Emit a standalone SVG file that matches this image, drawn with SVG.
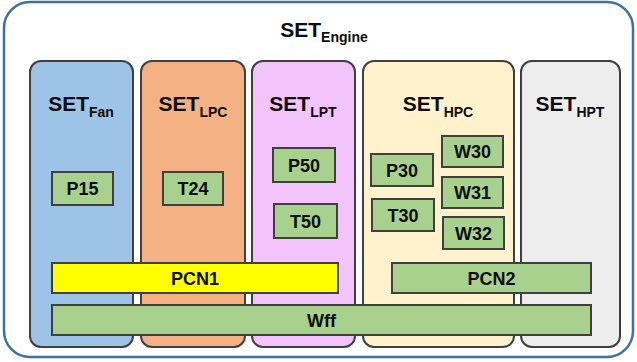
<svg xmlns="http://www.w3.org/2000/svg" width="637" height="362" viewBox="0 0 637 362">
<style>
text{font-family:"Liberation Sans",Arial,sans-serif;font-weight:bold;fill:#0d0d0d;text-anchor:middle}
.col{stroke:#404040;stroke-width:2}
.box{fill:#a9d18e;stroke:#404040;stroke-width:2}
.lbl{font-size:21px}
.sub{font-size:14px}
.bt{font-size:18px}
</style>
<rect width="637" height="362" fill="#ffffff"/>
<g id="engine">
<rect x="4" y="2" width="629" height="355" rx="26" fill="#ffffff" stroke="#41719c" stroke-width="2.5"/>
<text class="lbl" x="324" y="37">SET<tspan class="sub" dy="5">Engine</tspan></text>
</g>
<g id="fan">
<rect class="col" x="30" y="61" width="103" height="286" rx="11" fill="#9dc3e6"/>
<text class="lbl" x="81" y="111">SET<tspan class="sub" dy="6">Fan</tspan></text>
</g>
<g id="lpc">
<rect class="col" x="141" y="61" width="104" height="286" rx="11" fill="#f4b183"/>
<text class="lbl" x="193" y="111">SET<tspan class="sub" dy="6">LPC</tspan></text>
</g>
<g id="lpt">
<rect class="col" x="252" y="61" width="103" height="286" rx="11" fill="#f3c4fb"/>
<text class="lbl" x="303" y="111">SET<tspan class="sub" dy="6">LPT</tspan></text>
</g>
<g id="hpc">
<rect class="col" x="363" y="61" width="151" height="286" rx="11" fill="#fff2cc"/>
<text class="lbl" x="438" y="111">SET<tspan class="sub" dy="6">HPC</tspan></text>
</g>
<g id="hpt">
<rect class="col" x="521" y="61" width="99" height="286" rx="11" fill="#ededed"/>
<text class="lbl" x="570" y="111">SET<tspan class="sub" dy="6">HPT</tspan></text>
</g>
<g id="p15"><rect class="box" x="52" y="172" width="61" height="33"/><text class="bt" x="82.5" y="195">P15</text></g>
<g id="t24"><rect class="box" x="163" y="172" width="60" height="33"/><text class="bt" x="193" y="195">T24</text></g>
<g id="p50"><rect class="box" x="273" y="148" width="62" height="34"/><text class="bt" x="304" y="171.5">P50</text></g>
<g id="t50"><rect class="box" x="274" y="204" width="63" height="34"/><text class="bt" x="305.5" y="227.5">T50</text></g>
<g id="p30"><rect class="box" x="371" y="154" width="62" height="32"/><text class="bt" x="402" y="176.5">P30</text></g>
<g id="t30"><rect class="box" x="372" y="199" width="62" height="32"/><text class="bt" x="403" y="221.5">T30</text></g>
<g id="w30"><rect class="box" x="442" y="136" width="61" height="31"/><text class="bt" x="472.5" y="158">W30</text></g>
<g id="w31"><rect class="box" x="442" y="177" width="61" height="31"/><text class="bt" x="472.5" y="199">W31</text></g>
<g id="w32"><rect class="box" x="443" y="217" width="61" height="32"/><text class="bt" x="473.5" y="239.5">W32</text></g>
<g id="pcn1"><rect x="52" y="263" width="286" height="30" fill="#ffff00" stroke="#404040" stroke-width="2"/><text class="bt" x="195" y="284.5">PCN1</text></g>
<g id="pcn2"><rect class="box" x="392" y="263" width="199" height="30"/><text class="bt" x="491.5" y="284.5">PCN2</text></g>
<g id="wff"><rect class="box" x="52" y="305" width="539" height="30"/><text class="bt" x="321.5" y="326.5">Wff</text></g>
<g id="connectors"></g>
</svg>
